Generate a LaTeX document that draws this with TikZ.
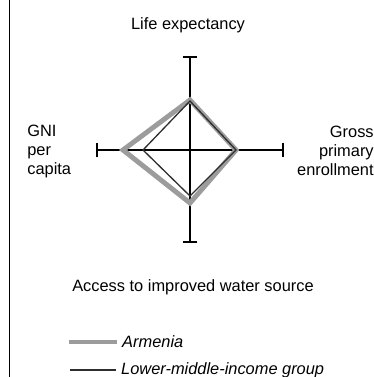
\documentclass[tikz,border=0pt]{standalone}
\usepackage{fontspec}
\setmainfont{Liberation Sans}
\usetikzlibrary{arrows.meta}
\definecolor{armgray}{HTML}{9C9C9C}
\definecolor{lmigray}{HTML}{2E2E2E}
\tikzset{
  axis/.style = {line width=1.2pt, {Bar[width=9pt]}-{Bar[width=9pt]}},
  armenia/.style = {line width=3pt, color=armgray},
  lmigroup/.style = {line width=0.8pt, color=lmigray},
  lbl/.style = {inner sep=0pt, font=\fontsize{10}{11.6}\selectfont},
  leglbl/.style = {inner sep=3pt, anchor=west, font=\fontsize{10}{11.6}\selectfont\itshape}
}

\begin{document}
\begin{tikzpicture}
  [x = 0.61pt, y = -0.61pt]
  \useasboundingbox (0,0) rectangle (373,377);
  \draw[line width=1.2pt] (9.5,0) -- (9.5,377);
  % axes
  \coordinate (le) at (190,56);
  \coordinate (wa) at (190,243);
  \coordinate (gni) at (96,150);
  \coordinate (gpe) at (284,150);
  \draw[axis] (le) -- (wa);
  \draw[axis] (gni) -- (gpe);
  % polygons
  \draw[armenia] (190,100) -- (236,150) -- (190,203) -- (123,150) -- cycle;
  \draw[lmigroup] (190,101) -- (236,150) -- (190,196) -- (143,150) -- cycle;
  % labels
  \node[lbl] (lelbl) at (188,25) {Life expectancy};
  \node[lbl, anchor=west, align=left] (gnilbl) at (27,151) {GNI\\per\\capita};
  \node[lbl, anchor=east, align=right] (gpelbl) at (374,151) {Gross\\primary\\enrollment};
  \node[lbl] (walbl) at (193,287) {Access to improved water source};
  % legend
  \node[leglbl] (armlbl) at (117,342) {Armenia};
  \node[leglbl] (lmilbl) at (116,370) {Lower-middle-income group};
  \coordinate (armstart) at (69,342);
  \coordinate (lmistart) at (70,370);
  \draw[armenia] (armstart) -- (armlbl.west);
  \draw[lmigroup] (lmistart) -- (lmilbl.west);
\end{tikzpicture}
\end{document}
